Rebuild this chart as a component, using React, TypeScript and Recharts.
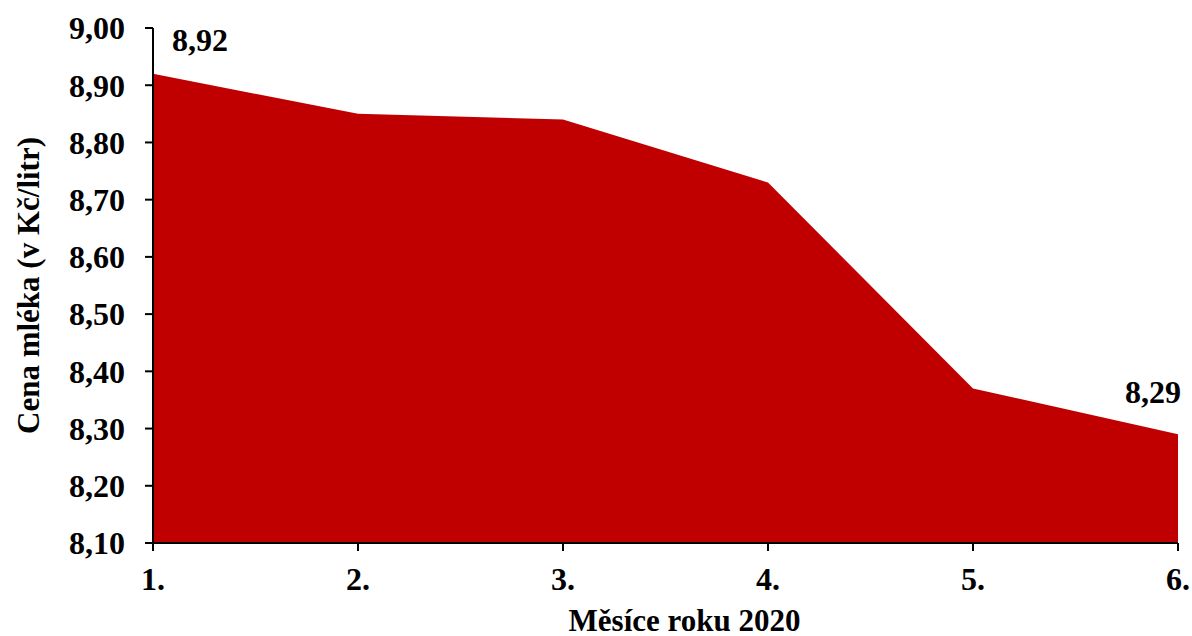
import { AreaChart, Area, XAxis, YAxis, LabelList, Label } from "recharts";

const months = ["1.", "2.", "3.", "4.", "5.", "6."];
const milkPrice = [8.92, 8.85, 8.84, 8.73, 8.37, 8.29];
const priceTicks = [8.1, 8.2, 8.3, 8.4, 8.5, 8.6, 8.7, 8.8, 8.9, 9.0];

const data = months.map((m, i) => ({ month: m, price: milkPrice[i] }));

const FONT = '"Liberation Serif", "Times New Roman", serif';
const fmt = (v: number) => v.toFixed(2).replace(".", ",");

// only the first and last points carry a value label
function EndLabel(props: any) {
  const { x, y, value, index } = props;
  if (index !== 0 && index !== milkPrice.length - 1) return null;
  const first = index === 0;
  return (
    <text
      x={first ? x + 47 : x - 25}
      y={first ? y - 23 : y - 31}
      textAnchor="middle"
      fontFamily={FONT}
      fontWeight="bold"
      fontSize={32}
      fill="#000"
    >
      {fmt(value)}
    </text>
  );
}

export default function App() {
  return (
    <div style={{ position: "absolute", left: 0, top: 0, background: "#fff" }}>
      <AreaChart
        width={1192}
        height={636}
        data={data}
        margin={{ top: 28, right: 14, bottom: 33, left: 0 }}
      >
        <XAxis
          dataKey="month"
          axisLine={{ stroke: "#000", strokeWidth: 2 }}
          tickLine={{ stroke: "#000", strokeWidth: 2 }}
          tickSize={8}
          height={60}
          tick={{ fill: "#000", fontFamily: FONT, fontWeight: "bold", fontSize: 32, dy: 14 }}
        >
          <Label
            value="Měsíce roku 2020"
            position="bottom"
            offset={6}
            dx={19}
            style={{ fill: "#000", fontFamily: FONT, fontWeight: "bold", fontSize: 31 }}
          />
        </XAxis>
        <YAxis
          type="number"
          domain={[8.1, 9.0]}
          ticks={priceTicks}
          interval={0}
          width={153}
          tickFormatter={fmt}
          axisLine={{ stroke: "#000", strokeWidth: 2 }}
          tickLine={{ stroke: "#000", strokeWidth: 2 }}
          tickSize={8}
          tick={{ fill: "#000", fontFamily: FONT, fontWeight: "bold", fontSize: 32, dx: -18 }}
        >
          <Label
            value="Cena mléka (v Kč/litr)"
            angle={-90}
            position="insideLeft"
            offset={28}
            style={{ textAnchor: "middle", fill: "#000", fontFamily: FONT, fontWeight: "bold", fontSize: 31 }}
          />
        </YAxis>
        <Area
          type="linear"
          dataKey="price"
          stroke="none"
          fill="#C00000"
          fillOpacity={1}
          isAnimationActive={false}
        >
          <LabelList dataKey="price" content={<EndLabel />} />
        </Area>
      </AreaChart>
    </div>
  );
}
